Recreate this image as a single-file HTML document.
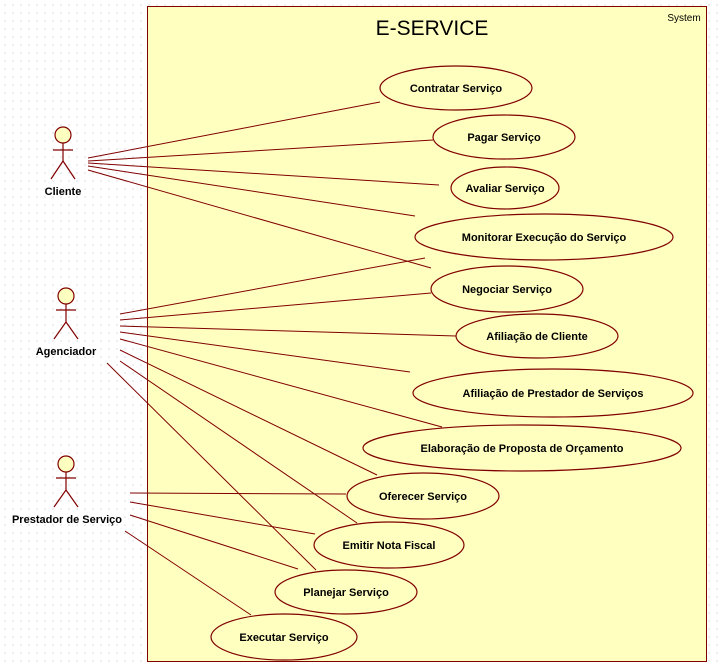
<!DOCTYPE html>
<html><head><meta charset="utf-8"><style>
html,body{margin:0;padding:0;}
body{width:719px;height:666px;overflow:hidden;background-color:#fff;
background-image:radial-gradient(circle,#c0c0c0 0.6px,transparent 0.8px);background-size:8px 8px;background-position:1px 1px;}
svg{position:absolute;left:0;top:0;}
text{font-family:"Liberation Sans",sans-serif;font-size:11px;font-weight:bold;fill:#000;text-anchor:middle;}
</style></head><body>
<svg width="719" height="666" xmlns="http://www.w3.org/2000/svg">
<rect x="147.5" y="6.5" width="559" height="655" fill="#ffffc0" stroke="#800000" stroke-width="1"/>
<text x="432" y="35" style="font-size:21px;font-weight:normal">E-SERVICE</text>
<text x="684" y="21" style="font-size:10px;font-weight:normal">System</text>
<g stroke="#800000" stroke-width="1" fill="none">
<line x1="88" y1="158" x2="380" y2="102"/>
<line x1="88" y1="161" x2="433" y2="140"/>
<line x1="88" y1="163" x2="439" y2="185"/>
<line x1="88" y1="166" x2="415" y2="216"/>
<line x1="88" y1="170" x2="431" y2="268"/>
<line x1="120" y1="314" x2="425" y2="258"/>
<line x1="120" y1="320" x2="431" y2="293"/>
<line x1="120" y1="326" x2="456" y2="336"/>
<line x1="120" y1="332" x2="410" y2="372"/>
<line x1="120" y1="339" x2="442" y2="427"/>
<line x1="120" y1="350" x2="377" y2="475"/>
<line x1="120" y1="361" x2="357" y2="523"/>
<line x1="107" y1="363" x2="316" y2="570"/>
<line x1="130" y1="493" x2="346" y2="494"/>
<line x1="130" y1="502" x2="315" y2="534"/>
<line x1="130" y1="515" x2="298" y2="569"/>
<line x1="125" y1="531" x2="251" y2="615"/>
</g>
<g stroke="#800000" stroke-width="1.2" fill="#ffffc0">
<ellipse cx="456" cy="88" rx="76" ry="22"/>
<ellipse cx="504" cy="137" rx="71" ry="22"/>
<ellipse cx="505" cy="188" rx="54" ry="21"/>
<ellipse cx="544" cy="237" rx="129" ry="23"/>
<ellipse cx="507" cy="289" rx="76" ry="23"/>
<ellipse cx="537" cy="336" rx="81" ry="22"/>
<ellipse cx="553" cy="393" rx="140" ry="24"/>
<ellipse cx="522" cy="448" rx="159" ry="23"/>
<ellipse cx="423" cy="496" rx="76" ry="23"/>
<ellipse cx="389" cy="545" rx="75" ry="23"/>
<ellipse cx="346" cy="592" rx="71" ry="22"/>
<ellipse cx="284" cy="637" rx="73" ry="23"/>
</g>
<text x="456" y="92">Contratar Serviço</text>
<text x="504" y="141">Pagar Serviço</text>
<text x="505" y="192">Avaliar Serviço</text>
<text x="544" y="241">Monitorar Execução do Serviço</text>
<text x="507" y="293">Negociar Serviço</text>
<text x="537" y="340">Afiliação de Cliente</text>
<text x="553" y="397">Afiliação de Prestador de Serviços</text>
<text x="522" y="452">Elaboração de Proposta de Orçamento</text>
<text x="423" y="500">Oferecer Serviço</text>
<text x="389" y="549">Emitir Nota Fiscal</text>
<text x="346" y="596">Planejar Serviço</text>
<text x="284" y="641">Executar Serviço</text>
<g stroke="#800000" stroke-width="1.2" fill="none">
<circle cx="63" cy="135" r="8" fill="#ffffc0"/>
<line x1="63" y1="143" x2="63" y2="161"/><line x1="53" y1="150" x2="73" y2="150"/>
<line x1="63" y1="161" x2="51" y2="179"/><line x1="63" y1="161" x2="75" y2="179"/>
<circle cx="66" cy="296" r="8" fill="#ffffc0"/>
<line x1="66" y1="304" x2="66" y2="322"/><line x1="56" y1="310" x2="76" y2="310"/>
<line x1="66" y1="322" x2="54" y2="339"/><line x1="66" y1="322" x2="78" y2="339"/>
<circle cx="66" cy="464" r="8" fill="#ffffc0"/>
<line x1="66" y1="472" x2="66" y2="490"/><line x1="56" y1="478" x2="76" y2="478"/>
<line x1="66" y1="490" x2="54" y2="507"/><line x1="66" y1="490" x2="78" y2="507"/>
</g>
<text x="63" y="195">Cliente</text>
<text x="66" y="355">Agenciador</text>
<text x="67" y="523">Prestador de Serviço</text>
</svg>
</body></html>
